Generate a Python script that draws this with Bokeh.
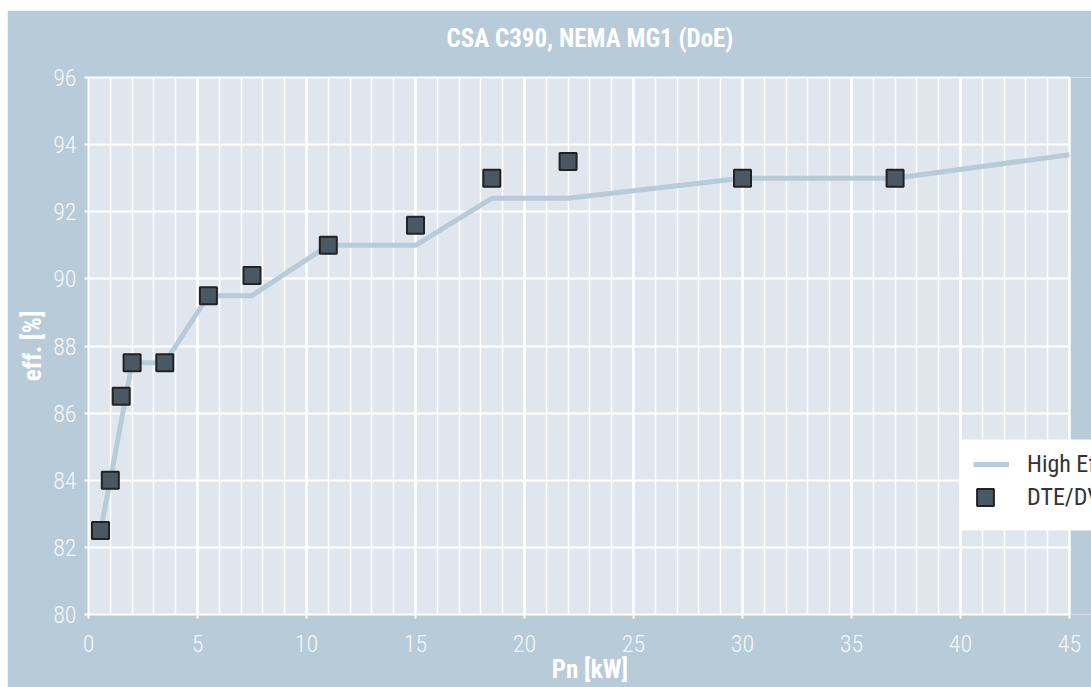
from bokeh.plotting import figure
from bokeh.models import FixedTicker, Range1d, LinearAxis, BoxAnnotation, Legend, LegendItem
from bokeh.embed import file_html
from bokeh.resources import INLINE

# ---- data ----
title_text = "CSA C390, NEMA MG1 (DoE)"
x_label = "Pn [kW]"
y_label = "eff. [%]"
line_name = "High Efficiency"
pts_name = "DTE/DVE"

line_kw = [0.55, 1.0, 2.0, 3.5, 5.5, 7.5, 11, 15, 18.5, 22, 30, 37, 45]
line_eff = [82.5, 84.0, 87.5, 87.5, 89.5, 89.5, 91.0, 91.0, 92.4, 92.4, 93.0, 93.0, 93.7]

pts_kw = [0.55, 1.0, 1.5, 2.0, 3.5, 5.5, 7.5, 11, 15, 18.5, 22, 30, 37]
pts_eff = [82.5, 84.0, 86.5, 87.5, 87.5, 89.5, 90.1, 91.0, 91.6, 93.0, 93.5, 93.0, 93.0]

x_ticks = [0, 5, 10, 15, 20, 25, 30, 35, 40, 45]
x_minor = list(range(0, 46))
y_ticks = [80, 82, 84, 86, 88, 90, 92, 94, 96]
y_grid = [82, 84, 86, 88, 90, 92, 94, 96]

# ---- style ----
TICK_FONT = "Roboto Condensed Light, Roboto Light, Roboto Condensed, Roboto, sans-serif"
BOLD_FONT = "Roboto Condensed, Roboto, sans-serif"
LEG_FONT = "Roboto Condensed, Roboto, sans-serif"
PANEL = "#b8cbd8"
FRAME = "#dfe6ed"

x_lo, x_hi = x_ticks[0], x_ticks[-1]

p = figure(width=1084, height=677, output_backend="svg", toolbar_location=None,
           x_range=Range1d(0, 46.01), y_range=Range1d(y_ticks[0], y_ticks[-1]),
           min_border_left=81, min_border_right=0, min_border_top=67, min_border_bottom=73,
           margin=(10, 0, 0, 7))
p.border_fill_color = PANEL
p.background_fill_color = FRAME
p.outline_line_color = None

p.xaxis.ticker = FixedTicker(ticks=x_ticks, minor_ticks=x_minor)
p.xaxis.bounds = (x_lo, x_hi)
p.yaxis.ticker = FixedTicker(ticks=y_ticks)
p.ygrid.ticker = FixedTicker(ticks=y_grid)

for ax in (p.xaxis, p.yaxis):
    ax.axis_line_color = "white"
    ax.axis_line_width = 2
    ax.major_tick_line_color = "white"
    ax.major_tick_line_width = 2
    ax.major_tick_out = 4
    ax.major_tick_in = 0
    ax.minor_tick_line_color = None
    ax.major_label_text_color = "#f4f7f9"
    ax.major_label_text_font = TICK_FONT
    ax.major_label_text_font_size = "24px"
    ax.major_label_standoff = 8
    ax.axis_label_text_color = "white"
    ax.axis_label_text_font = BOLD_FONT
    ax.axis_label_text_font_size = "25px"
    ax.axis_label_text_font_style = "bold"

p.xaxis.major_label_standoff = 16
p.xaxis.axis_label = x_label
p.xaxis.axis_label_standoff = 0
p.yaxis.axis_label = y_label
p.yaxis.axis_label_standoff = 3

# title as an extra axis above the frame (also draws the top frame border)
top = LinearAxis(ticker=FixedTicker(ticks=[]), bounds=(x_lo, x_hi), axis_label=title_text,
                 axis_label_standoff=25, axis_label_text_color="white",
                 axis_label_text_font=BOLD_FONT, axis_label_text_font_size="25px",
                 axis_label_text_font_style="bold", axis_line_color="white",
                 axis_line_width=2, major_tick_line_color=None, minor_tick_line_color=None,
                 major_tick_out=0, major_label_standoff=0)
p.add_layout(top, "above")

p.xgrid.grid_line_color = "white"
p.xgrid.grid_line_width = 2.5
p.xgrid.minor_grid_line_color = "white"
p.xgrid.minor_grid_line_width = 1.5
p.ygrid.grid_line_color = "white"
p.ygrid.grid_line_width = 2

# panel colour to the right of the last tick
p.add_layout(BoxAnnotation(left=x_hi + 0.06, fill_color=PANEL, fill_alpha=1,
                           line_color=None, level="underlay"))

r_line = p.line(line_kw, line_eff, line_color=PANEL, line_width=5)
r_pts = p.scatter(pts_kw, pts_eff, marker="square", size=17, fill_color="#4a5864",
                  line_color="#222222", line_width=2)

# white legend box (screen px, measured from the frame's left / bottom edge)
p.add_layout(BoxAnnotation(left=872, left_units="screen", top=175, top_units="screen",
                           bottom=84, bottom_units="screen", fill_color="white",
                           fill_alpha=1, line_color=None))


def make_legend(item, loc, gw, gh, lh, standoff):
    return Legend(items=[item], location=loc, padding=0, spacing=0, margin=0,
                  glyph_width=gw, glyph_height=gh, label_height=lh,
                  label_standoff=standoff, label_text_font=LEG_FONT,
                  label_text_font_size="24px", label_text_color="#333333",
                  background_fill_alpha=0, border_line_color=None)


p.add_layout(make_legend(LegendItem(label=line_name, renderers=[r_line]),
                         (885, 136), 36, 20, 28, 18))
p.add_layout(make_legend(LegendItem(label=pts_name, renderers=[r_pts]),
                         (876, 96), 42, 42, 42, 21))

open("out.html", "w").write(file_html(p, INLINE))
